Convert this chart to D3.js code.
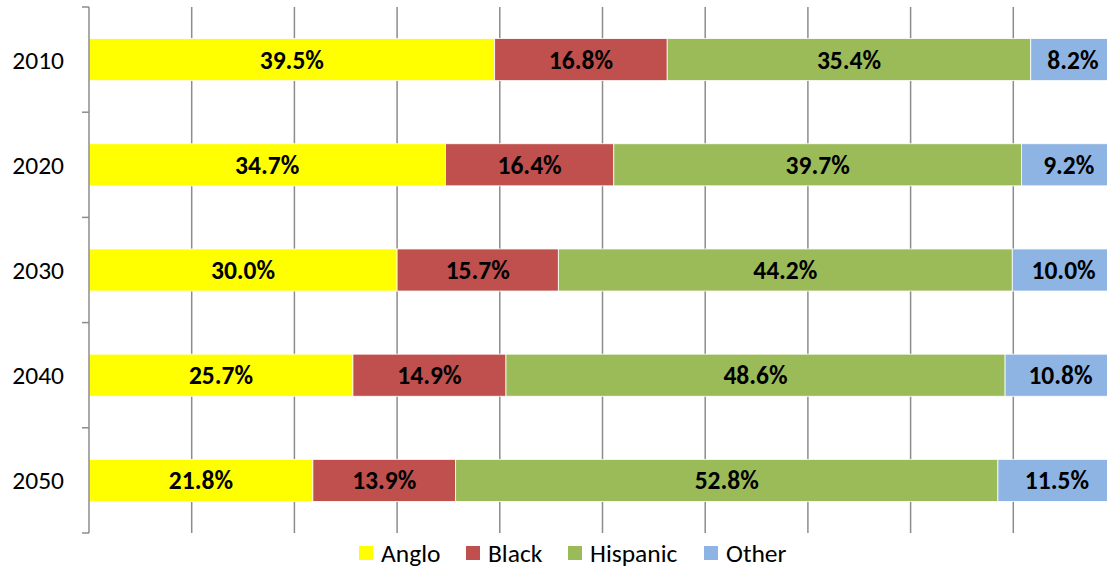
<!DOCTYPE html>
<html>
<head>
<meta charset="utf-8">
<script src="https://cdn.jsdelivr.net/npm/d3@7"></script>
<style>
  body { margin: 0; background: #fff; }
  text { font-family: Carlito, Calibri, "Open Sans", "Noto Sans", sans-serif; }
</style>
</head>
<body>
<div id="chart"></div>
<script>
// years shown on the vertical axis
var years = ["2010", "2020", "2030", "2040", "2050"];
var groups = ["Anglo", "Black", "Hispanic", "Other"];
var colors = ["#FFFF00", "#C0504D", "#9BBB59", "#8EB4E3"];

// share of population per group, one array per group (percent)
var anglo    = [39.5, 34.7, 30.0, 25.7, 21.8];
var black    = [16.8, 16.4, 15.7, 14.9, 13.9];
var hispanic = [35.4, 39.7, 44.2, 48.6, 52.8];
var other    = [8.2, 9.2, 10.0, 10.8, 11.5];

var xTicks = [0, 10, 20, 30, 40, 50, 60, 70, 80, 90, 100];

var width = 1107, height = 569;
var margin = {left: 89, top: 7, bottom: 36};
var fontSize = "25.5px";

// build rows for d3.stack
var table = years.map(function(y, i) {
  return {year: y, Anglo: anglo[i], Black: black[i], Hispanic: hispanic[i], Other: other[i]};
});
var series = d3.stack().keys(groups)(table);

var svg = d3.select("#chart").append("svg")
  .attr("width", width)
  .attr("height", height);

// 100% falls just past the right edge of the picture
var x = d3.scaleLinear().domain([0, 100]).range([margin.left, 1116]);
var y = d3.scaleBand().domain(years)
  .range([margin.top, height - margin.bottom])
  .paddingInner(0.6).paddingOuter(0.3);
var band = d3.scaleBand().domain(years).range([margin.top, height - margin.bottom]);

// vertical gridlines
svg.append("g").selectAll("line")
  .data(xTicks.slice(1))
  .enter().append("line")
  .attr("x1", function(d) { return x(d); })
  .attr("x2", function(d) { return x(d); })
  .attr("y1", margin.top)
  .attr("y2", height - margin.bottom)
  .attr("stroke", "#8c8c8c")
  .attr("stroke-width", 1.5);

// bars
var layer = svg.append("g").selectAll("g")
  .data(series)
  .enter().append("g")
  .attr("fill", function(d, i) { return colors[i]; });

layer.selectAll("rect")
  .data(function(d) { return d; })
  .enter().append("rect")
  .attr("x", function(d) { return x(d[0]); })
  .attr("width", function(d) { return x(d[1]) - x(d[0]); })
  .attr("y", function(d) { return y(d.data.year); })
  .attr("height", y.bandwidth())
  .attr("stroke", "#fff")
  .attr("stroke-width", 0.8);

// value labels, centred on the full segment
layer.selectAll("text")
  .data(function(d) { return d; })
  .enter().append("text")
  .attr("x", function(d) { return (x(d[0]) + x(d[1])) / 2; })
  .attr("y", function(d) { return y(d.data.year) + y.bandwidth() / 2; })
  .attr("dy", "0.35em")
  .attr("text-anchor", "middle")
  .attr("fill", "#000")
  .style("font-size", fontSize)
  .style("font-weight", "bold")
  .text(function(d) { return (d[1] - d[0]).toFixed(1) + "%"; });

// left axis with ticks between categories
var yAxis = svg.append("g");
yAxis.append("line")
  .attr("x1", margin.left).attr("x2", margin.left)
  .attr("y1", margin.top).attr("y2", height - margin.bottom)
  .attr("stroke", "#8c8c8c").attr("stroke-width", 1.5);
var bounds = years.map(function(d) { return band(d); }).concat([height - margin.bottom]);
yAxis.selectAll("line.tick")
  .data(bounds)
  .enter().append("line")
  .attr("class", "tick")
  .attr("x1", margin.left - 7).attr("x2", margin.left)
  .attr("y1", function(d) { return d; }).attr("y2", function(d) { return d; })
  .attr("stroke", "#8c8c8c").attr("stroke-width", 1.5);
yAxis.selectAll("text")
  .data(years)
  .enter().append("text")
  .attr("x", 64)
  .attr("y", function(d) { return y(d) + y.bandwidth() / 2; })
  .attr("dy", "0.35em")
  .attr("text-anchor", "end")
  .style("font-size", fontSize)
  .attr("fill", "#000")
  .text(function(d) { return d; });

// legend
var legendX = [359, 466, 568, 704];
var legend = svg.append("g").selectAll("g")
  .data(groups)
  .enter().append("g")
  .attr("transform", function(d, i) { return "translate(" + legendX[i] + ",546)"; });
legend.append("rect")
  .attr("width", 14).attr("height", 14)
  .attr("fill", function(d, i) { return colors[i]; });
legend.append("text")
  .attr("x", 22).attr("y", 7).attr("dy", "0.35em")
  .style("font-size", fontSize)
  .attr("fill", "#000")
  .text(function(d) { return d; });
</script>
</body>
</html>
